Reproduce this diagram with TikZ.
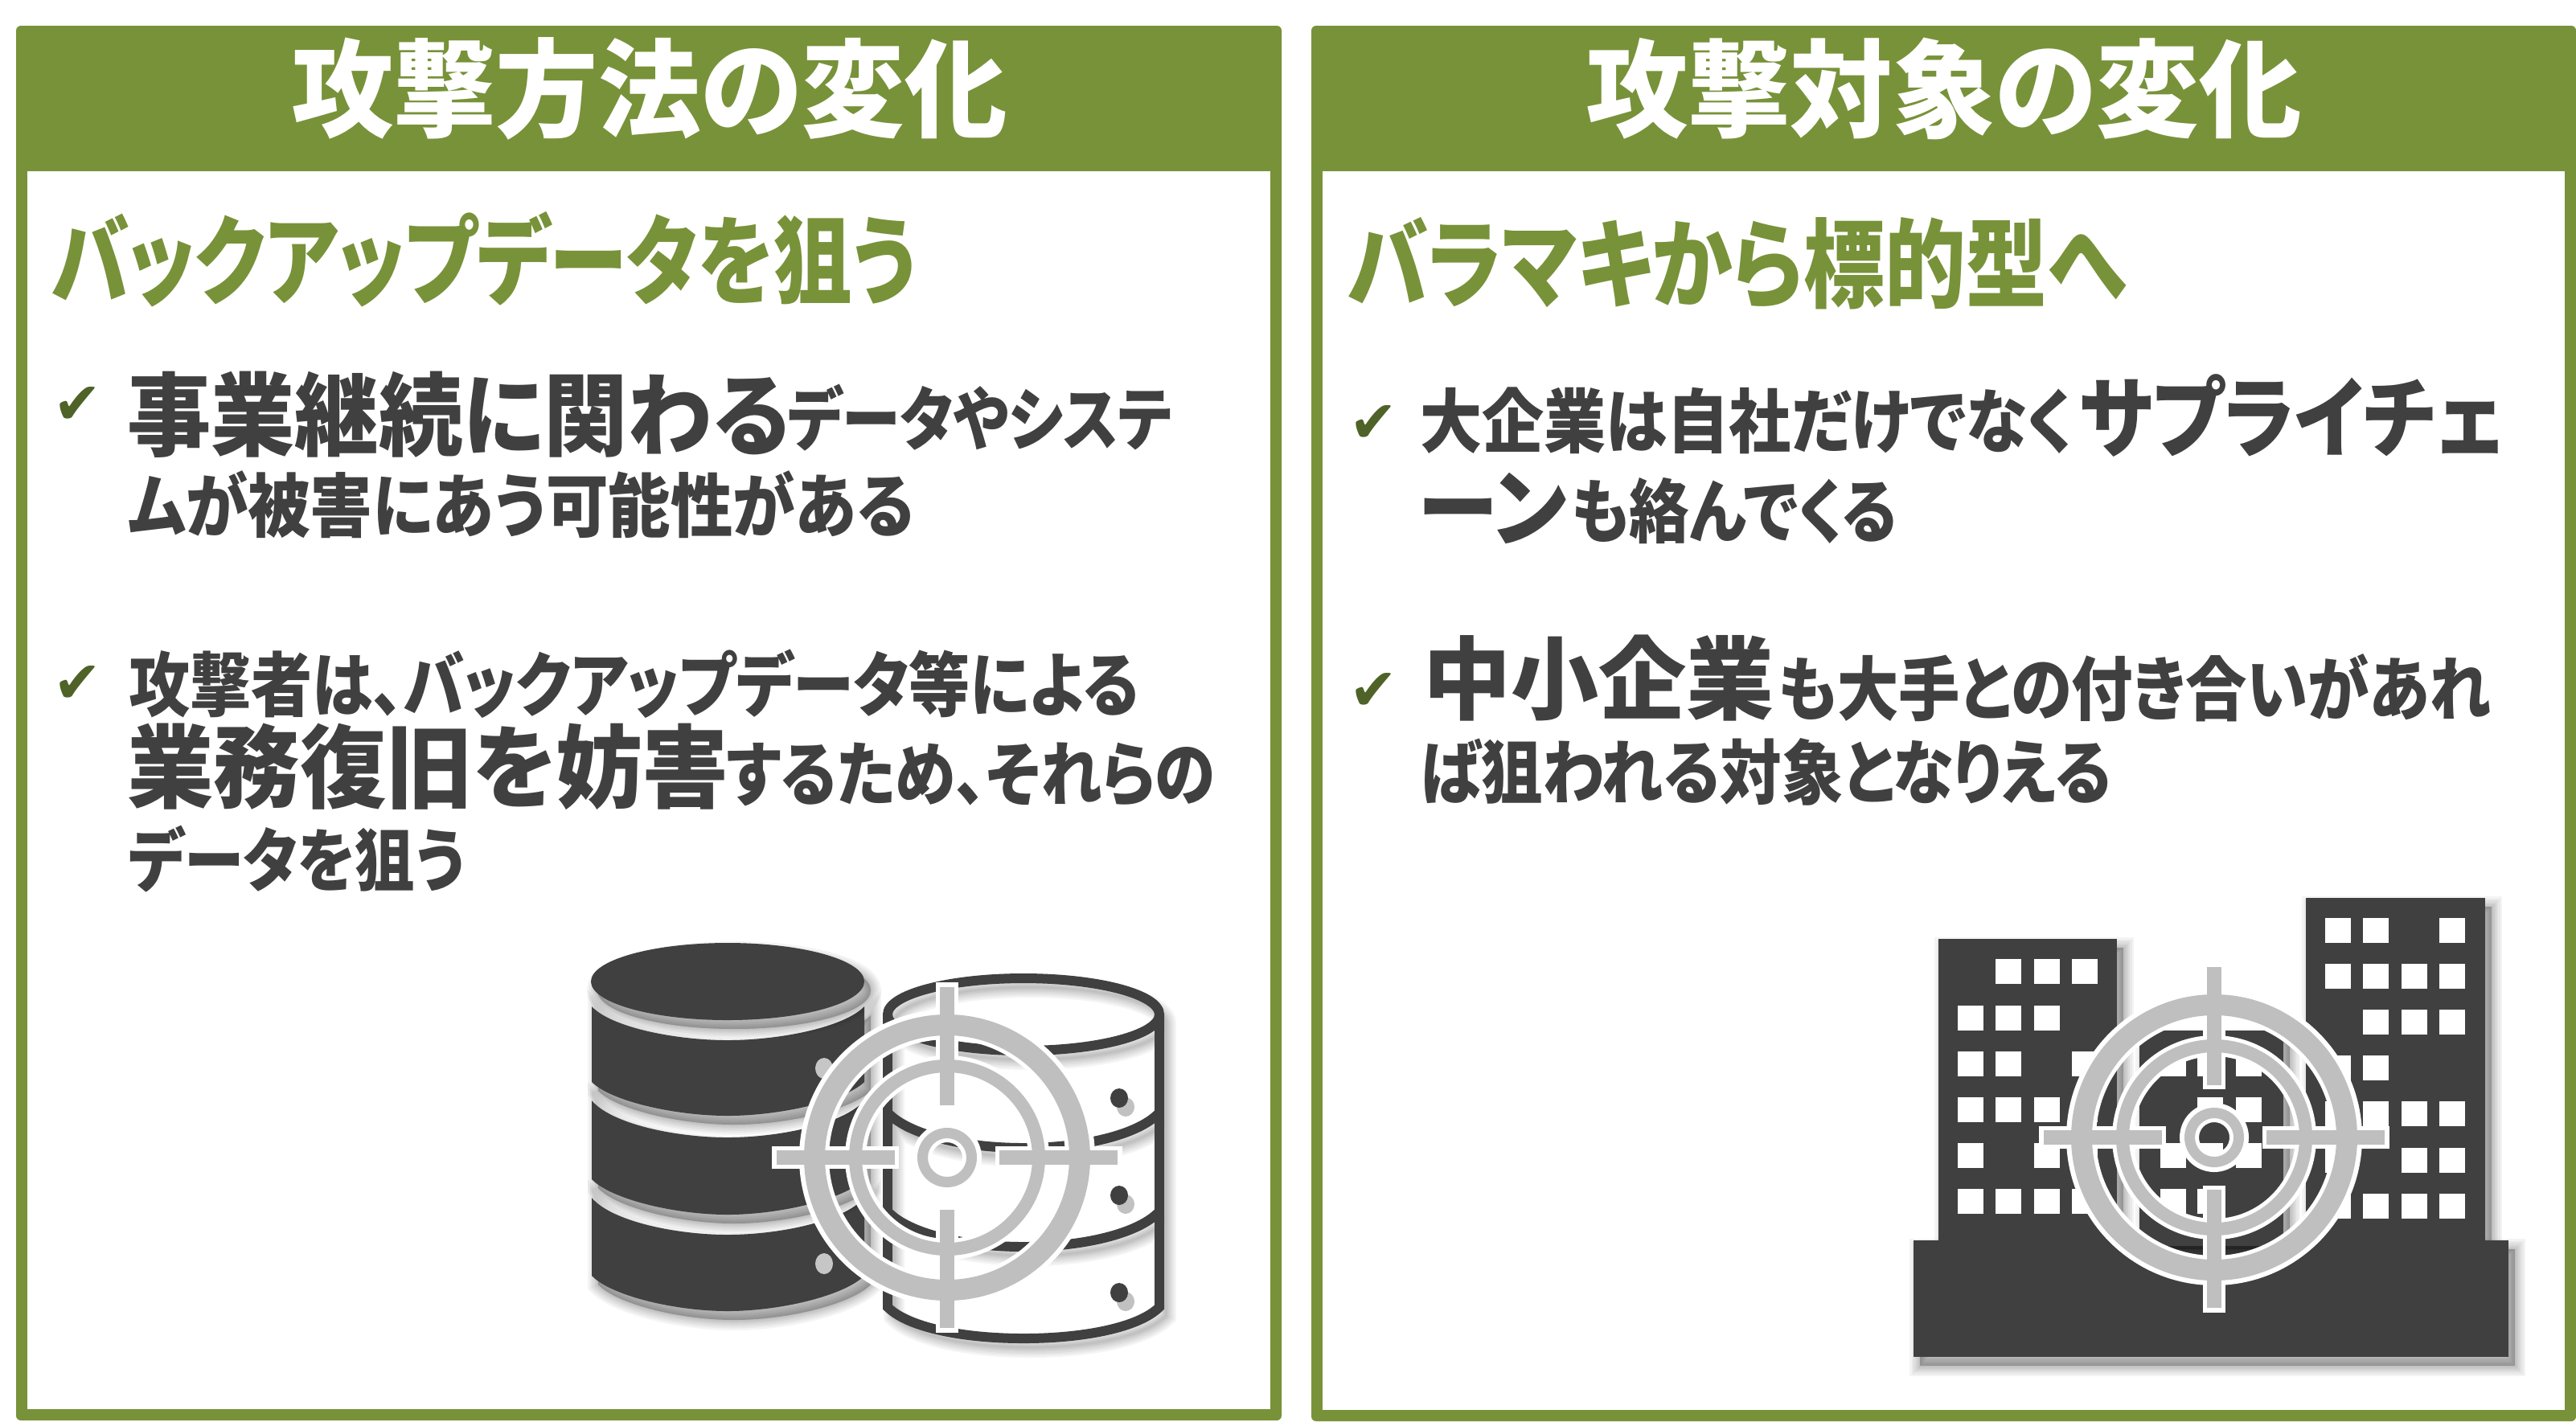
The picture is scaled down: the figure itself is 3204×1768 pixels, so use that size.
\documentclass[tikz,border=0pt]{standalone}
\usepackage{fontspec}
\usepackage{graphicx}
\newfontfamily\jpf[RawFeature=+palt]{Noto Sans CJK JP}
\newfontfamily\djv{DejaVu Sans}
\definecolor{hdgreen}{HTML}{789239}
\definecolor{txdark}{HTML}{404040}
\definecolor{tggray}{HTML}{BFBFBF}
\definecolor{ckgreen}{HTML}{4F6228}
\newdimen\pxl \pxl=0.28453pt
\newcommand{\fsz}[1]{\fontsize{\the\dimexpr#1\pxl\relax}{\the\dimexpr#1\pxl\relax}\selectfont}
% name, x, centre y, width px, em px, colour, text
\newcommand{\seg}[7]{\pgfmathsetmacro{\by}{#3+0.38*#5}%
  \node[anchor=base west,inner sep=0pt,outer sep=0pt,text=#6] (#1) at (#2,\by)
   {\resizebox{#4\pxl}{\totalheight}{\jpf\bfseries\fsz{#5}#7}};}
\newcommand{\chk}[3]{\node[inner sep=0pt,text=ckgreen] (#1) at (#2,#3) {\resizebox{60\pxl}{46\pxl}{\djv ✔}};}
% soft shadow helper: #1 path options, #2 path
\newcommand{\softshadow}[2]{%
  \foreach \w in {26,21,16,11,7,3}{\path[#1,line width=\w*\pxl,opacity=.045,shift={(8,11)}] #2;}}
\newcommand{\tgt}[2]{%
 \begin{scope}[shift={(#1,#2)}]
  \fill[white,even odd rule] (0,0) circle (184) (0,0) circle (147);
  \fill[white,even odd rule] (0,0) circle (127) (0,0) circle (101);
  \fill[white,even odd rule] (0,0) circle (43) (0,0) circle (19);
  \foreach \a in {0,90,180,270}{\fill[white,rotate=\a] (60,-14) rectangle (218,14);}
  \fill[tggray,even odd rule] (0,0) circle (178) (0,0) circle (152);
  \fill[tggray,even odd rule] (0,0) circle (122) (0,0) circle (106);
  \fill[tggray,even odd rule] (0,0) circle (37) (0,0) circle (24);
  \foreach \a in {0,90,180,270}{\fill[tggray,rotate=\a] (65,-9) rectangle (212,9);}
 \end{scope}}
\begin{document}
\begin{tikzpicture}[x=0.01cm,y=-0.01cm]
\useasboundingbox (0,0) rectangle (3204,1768);
\fill[white] (0,0) rectangle (3204,1768);
% panels
\foreach \xa/\xb/\yb in {20/1594/1767,1631/3204/1768}{
 \fill[hdgreen,rounded corners=1.7pt] (\xa,32) rectangle (\xb,\yb);
 \fill[white] (\xa+14,213) rectangle (\xb-14,\yb-14);
}
% left text
\seg{t1}{362}{116}{890}{118}{white}{攻撃方法の変化}
\seg{t2}{1972}{116}{890}{118}{white}{攻撃対象の変化}
\seg{s1}{64}{328}{1076}{108}{hdgreen}{バックアップデータを狙う}
\seg{s2}{1676}{332}{968}{108}{hdgreen}{バラマキから標的型へ}
\chk{c1}{97}{504}
\seg{a1}{158}{520}{824}{101}{txdark}{事業継続に関わる}
\seg{a2}{980}{524}{478}{78}{txdark}{データやシステ}
\seg{a3}{160}{632}{976}{78}{txdark}{ムが被害にあう可能性がある}
\chk{c2}{97}{851}
\seg{b1}{160}{855}{1256}{78}{txdark}{攻撃者は、バックアップデータ等による}
\seg{b2}{158}{958}{748}{101}{txdark}{業務復旧を妨害}
\seg{b3}{903}{966}{608}{78}{txdark}{するため、それらの}
\seg{b4}{160}{1073}{418}{78}{txdark}{データを狙う}
% right text
\chk{c3}{1708}{527}
\seg{d1}{1766}{527}{812}{78}{txdark}{大企業は自社だけでなく}
\seg{d2}{2586}{522}{528}{101}{txdark}{サプライチェ}
\seg{d3}{1765}{633}{184}{101}{txdark}{ーン}
\seg{d4}{1955}{639}{404}{78}{txdark}{も絡んでくる}
\chk{c4}{1708}{860}
\seg{e1}{1770}{848}{436}{101}{txdark}{中小企業}
\seg{e2}{2212}{860}{886}{78}{txdark}{も大手との付き合いがあれ}
\seg{e3}{1766}{964}{860}{78}{txdark}{ば狙われる対象となりえる}
% ---- database icon
\def\bodyA{(736,1252) -- (736,1346) .. controls (760,1370) and (840,1388) .. (905,1388) .. controls (970,1388) and (1050,1370) .. (1075,1346) -- (1075,1252) .. controls (1050,1278) and (970,1294) .. (905,1294) .. controls (840,1294) and (760,1278) .. (736,1252) -- cycle}
\def\bodyB{(736,1369) -- (736,1467) .. controls (760,1492) and (840,1511) .. (905,1511) .. controls (970,1511) and (1050,1492) .. (1075,1467) -- (1075,1369) .. controls (1050,1398) and (970,1415) .. (905,1415) .. controls (840,1415) and (760,1398) .. (736,1369) -- cycle}
\def\bodyC{(736,1490) -- (736,1587) .. controls (760,1612) and (840,1631) .. (905,1631) .. controls (970,1631) and (1050,1612) .. (1075,1587) -- (1075,1490) .. controls (1050,1519) and (970,1536) .. (905,1536) .. controls (840,1536) and (760,1519) .. (736,1490) -- cycle}
\softshadow{fill=black,draw=black}{\bodyC}
\fill[txdark] \bodyC;
\softshadow{fill=black,draw=black}{\bodyB}
\fill[txdark] \bodyB;
\softshadow{fill=black,draw=black}{\bodyA}
\fill[txdark] \bodyA;
\softshadow{fill=black,draw=black}{(905,1221) ellipse [x radius=170,y radius=48]}
\fill[txdark] (905,1221) ellipse [x radius=170,y radius=48];
\fill[white!70!txdark] (1025,1329) ellipse [x radius=11,y radius=13];
\fill[white!70!txdark] (1025,1572) ellipse [x radius=11,y radius=13];
% outlined cylinder
\def\cylOut{(1104,1262) -- (1104,1626) .. controls (1130,1652) and (1200,1665) .. (1273,1665) .. controls (1346,1665) and (1416,1652) .. (1442,1626) -- (1442,1262)
 (1273,1262) ellipse [x radius=169,y radius=45]
 (1104,1384) .. controls (1130,1412) and (1200,1428) .. (1273,1428) .. controls (1346,1428) and (1416,1412) .. (1442,1384)
 (1104,1507) .. controls (1130,1535) and (1200,1551) .. (1273,1551) .. controls (1346,1551) and (1416,1535) .. (1442,1507)}
\softshadow{draw=black}{\cylOut}
\draw[txdark,line width=12*\pxl] \cylOut;
\foreach \yy in {1366,1487,1608}{
 \softshadow{fill=black}{(1392,\yy) ellipse [x radius=11,y radius=12]}
 \fill[txdark] (1392,\yy) ellipse [x radius=11,y radius=12];}
\tgt{1178}{1440}
% ---- building icon
\softshadow{fill=black,draw=black}{(2411,1168) rectangle (2633,1543)}
\softshadow{fill=black,draw=black}{(2868,1117) rectangle (3091,1543)}
\softshadow{fill=black,draw=black}{(2380,1543) rectangle (3120,1688)}
\fill[txdark] (2411,1168) rectangle (2633,1550);
\fill[txdark] (2868,1117) rectangle (3091,1550);
\fill[txdark] (2380,1543) rectangle (3120,1688);
\def\win#1#2{\fill[white] (#1,#2) rectangle ++(32,31);}
\foreach \a/\b in {2482/1193,2530/1193,2577/1193,
 2435/1251,2482/1251,2530/1251,
 2435/1308,2482/1308,2577/1308,
 2435/1365,2482/1365,2530/1365,2577/1365,
 2435/1422,2530/1422,2577/1422,
 2435/1479,2482/1479,2530/1479,2577/1479,
 2892/1142,2939/1142,3034/1142,
 2892/1199,2939/1199,2987/1199,3034/1199,
 2939/1256,2987/1256,3034/1256,
 2892/1313,2939/1313,
 2892/1370,2939/1370,2987/1370,3034/1370,
 2892/1428,2987/1428,3034/1428,
 2892/1485,2939/1485,2987/1485,3034/1485}{\win{\a}{\b}}
\begin{scope}
 \clip (2754,1415) circle (160);
 \softshadow{fill=black,draw=black}{(2661,1282) rectangle (2840,1543)}
 \fill[txdark] (2661,1282) rectangle (2840,1550);
 \foreach \a/\b in {2687/1308,2733/1308,2781/1308,
  2733/1365,2781/1365,
  2687/1422,2733/1422,2781/1422,
  2687/1479,2733/1479}{\win{\a}{\b}}
\end{scope}
\tgt{2754}{1415}
\end{tikzpicture}
\end{document}
